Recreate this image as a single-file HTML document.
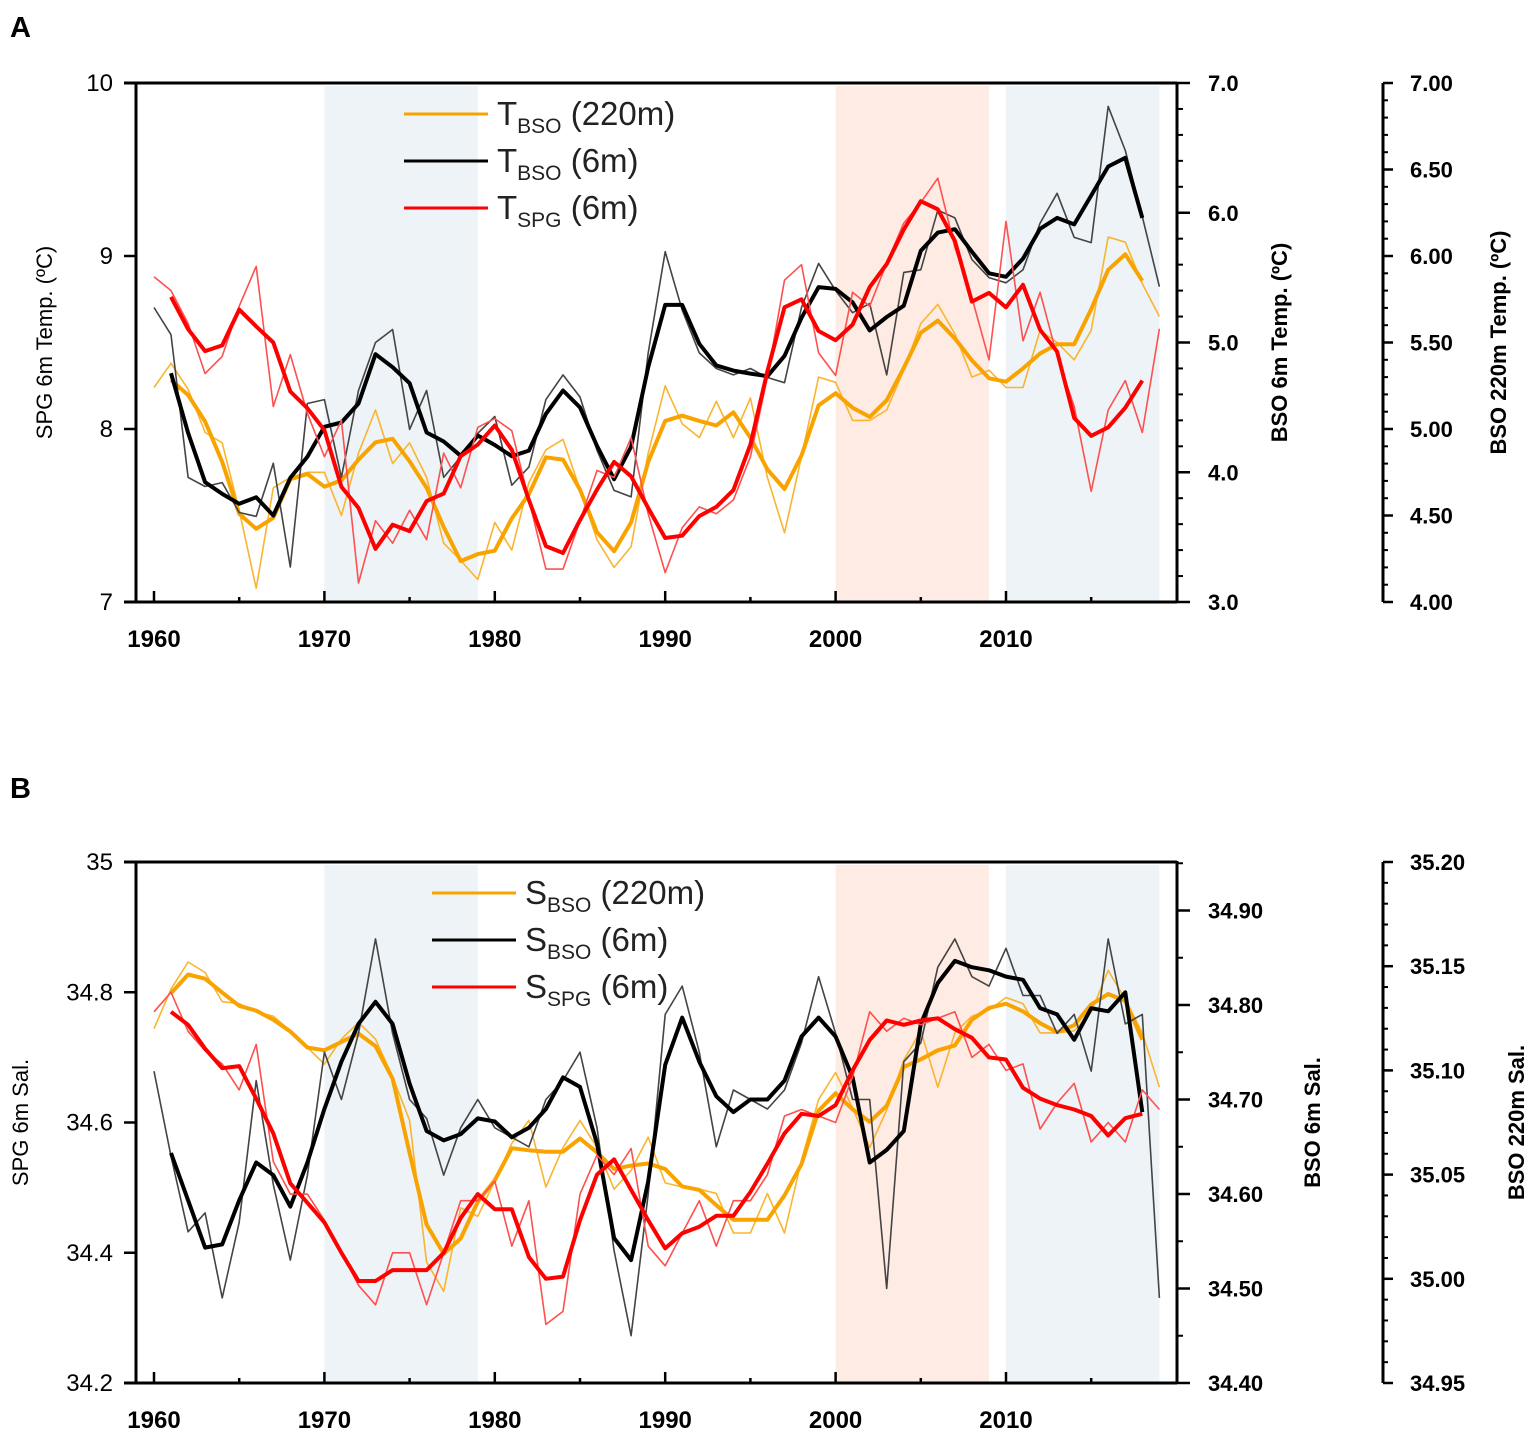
<!DOCTYPE html>
<html><head><meta charset="utf-8"><style>
body{margin:0;background:#fff}
svg{display:block;font-family:"Liberation Sans",Arial,sans-serif}
</style></head><body>
<svg id="chart" width="1535" height="1436" viewBox="0 0 1535 1436" xmlns="http://www.w3.org/2000/svg"></svg>
<script>
const years=[];for(let y=1960;y<=2019;y++)years.push(y);
const xTicks=[1960,1970,1980,1990,2000,2010];
// Panel A data
const tSpg=[8.88,8.80,8.61,8.32,8.42,8.71,8.94,8.13,8.43,8.09,7.84,8.05,7.11,7.47,7.34,7.53,7.36,7.86,7.66,8.01,8.06,7.99,7.59,7.19,7.19,7.47,7.76,7.72,7.95,7.51,7.17,7.43,7.55,7.51,7.59,7.84,8.30,8.86,8.95,8.44,8.31,8.79,8.71,8.96,9.19,9.31,9.45,9.05,8.76,8.40,9.20,8.51,8.79,8.42,8.13,7.64,8.11,8.28,7.98,8.58];
const tBso6=[5.27,5.06,3.96,3.89,3.92,3.69,3.66,4.07,3.27,4.53,4.56,3.96,4.63,5.00,5.10,4.33,4.63,3.96,4.12,4.30,4.43,3.90,4.04,4.56,4.75,4.58,4.17,3.86,3.81,4.92,5.70,5.25,4.92,4.80,4.75,4.80,4.73,4.69,5.27,5.61,5.40,5.23,5.30,4.75,5.54,5.56,6.02,5.96,5.64,5.50,5.46,5.56,5.92,6.15,5.81,5.77,6.82,6.48,5.97,5.43];
const tBso220=[5.24,5.38,5.23,4.98,4.92,4.53,4.08,4.66,4.72,4.75,4.75,4.50,4.86,5.11,4.80,4.92,4.72,4.34,4.24,4.13,4.46,4.30,4.69,4.88,4.94,4.65,4.36,4.20,4.32,4.86,5.25,5.03,4.95,5.16,4.95,5.18,4.72,4.40,4.84,5.30,5.27,5.05,5.05,5.11,5.34,5.61,5.72,5.55,5.30,5.34,5.24,5.24,5.57,5.50,5.40,5.57,6.11,6.08,5.84,5.65];
// Panel B data
const sSpg=[34.77,34.80,34.74,34.71,34.69,34.65,34.72,34.54,34.49,34.49,34.45,34.40,34.35,34.32,34.40,34.40,34.32,34.40,34.48,34.48,34.51,34.41,34.48,34.29,34.31,34.49,34.55,34.52,34.56,34.41,34.38,34.43,34.48,34.41,34.48,34.48,34.52,34.61,34.62,34.61,34.60,34.67,34.77,34.74,34.76,34.75,34.76,34.77,34.70,34.72,34.68,34.69,34.59,34.63,34.66,34.57,34.60,34.57,34.65,34.62];
const sBso6=[34.73,34.64,34.56,34.58,34.49,34.57,34.72,34.61,34.53,34.62,34.75,34.70,34.77,34.87,34.77,34.70,34.68,34.62,34.67,34.70,34.67,34.66,34.65,34.70,34.72,34.75,34.67,34.54,34.45,34.60,34.79,34.82,34.75,34.65,34.71,34.70,34.69,34.71,34.76,34.83,34.77,34.70,34.70,34.50,34.74,34.76,34.84,34.87,34.83,34.82,34.86,34.81,34.81,34.77,34.79,34.73,34.87,34.78,34.79,34.49];
const sBso220=[35.120,35.139,35.152,35.147,35.133,35.132,35.128,35.126,35.119,35.111,35.103,35.115,35.123,35.115,35.097,35.076,35.008,34.994,35.034,35.030,35.047,35.065,35.076,35.044,35.063,35.076,35.063,35.043,35.052,35.068,35.046,35.044,35.043,35.041,35.022,35.022,35.041,35.022,35.057,35.086,35.099,35.082,35.063,35.081,35.105,35.119,35.092,35.118,35.126,35.129,35.135,35.132,35.118,35.118,35.119,35.128,35.148,35.134,35.118,35.092];
const aLeftTicks=[7,8,9,10];
const aRightTicks=["3.0","4.0","5.0","6.0","7.0"];
const aThirdTicks=["4.00","4.50","5.00","5.50","6.00","6.50","7.00"];
const bLeftTicks=["34.2","34.4","34.6","34.8","35"];
const bRightTicks=["34.40","34.50","34.60","34.70","34.80","34.90"];
const bThirdTicks=["34.95","35.00","35.05","35.10","35.15","35.20"];
const shades=[[1970,1979,"#edf3f6"],[2000,2009,"#fdebe4"],[2010,2019,"#edf3f6"]];

const NS="http://www.w3.org/2000/svg";
const svg=document.getElementById('chart');
function mk(tag,attrs,parent){const e=document.createElementNS(NS,tag);for(const k in attrs)e.setAttribute(k,attrs[k]);(parent||svg).appendChild(e);return e;}
const X0=136,X1=1177,AX3=1383;
const xs=y=>154+(y-1960)*17.04;
function smooth(a){const r=[];for(let i=1;i<a.length-1;i++)r.push((a[i-1]+a[i]+a[i+1])/3);return r;}

function panel(P){
  const g=mk('g',{});
  
  
  shades.forEach(s=>{const r=mk('rect',{x:xs(s[0]),y:P.top+3,width:xs(s[1])-xs(s[0]),height:P.bot-P.top-3,fill:s[2]},g);
    });
  P.series.forEach(s=>{
    const thin=s.data.map((v,i)=>xs(years[i]).toFixed(1)+','+s.sc(v).toFixed(1)).join(' ');
    const l1=mk('polyline',{points:thin,fill:'none',stroke:s.thin,'stroke-width':1.6,'stroke-linejoin':'round'},g);
    
    const sm=smooth(s.data);
    const thick=sm.map((v,i)=>xs(years[i+1]).toFixed(1)+','+s.sc(v).toFixed(1)).join(' ');
    const l2=mk('polyline',{points:thick,fill:'none',stroke:s.col,'stroke-width':4,'stroke-linejoin':'round'},g);
    
  });
  mk('line',{x1:X0-12,y1:P.top,x2:X1,y2:P.top,stroke:'#000','stroke-width':3},g);
  mk('line',{x1:X0-12,y1:P.bot,x2:X1,y2:P.bot,stroke:'#000','stroke-width':3},g);
  mk('line',{x1:X0,y1:P.top,x2:X0,y2:P.bot,stroke:'#000','stroke-width':3},g);
  mk('line',{x1:X1,y1:P.top-1,x2:X1,y2:P.bot+1,stroke:'#000','stroke-width':3},g);
  for(let y=1960;y<=2015;y+=5){const maj=y%10==0;mk('line',{x1:xs(y),y1:P.bot,x2:xs(y),y2:P.bot-(maj?11:5),stroke:'#000','stroke-width':2.5},g);}
  xTicks.forEach(y=>{const t=mk('text',{x:xs(y),y:P.bot+45,'text-anchor':'middle','font-size':24,'font-weight':'bold'},g);t.textContent=y;
    });
  P.left.ticks.forEach(v=>{const yy=P.left.sc(+v);mk('line',{x1:X0-12,y1:yy,x2:X0,y2:yy,stroke:'#000','stroke-width':2.5},g);
    const t=mk('text',{x:113,y:yy+8,'text-anchor':'end','font-size':24},g);t.textContent=v;
    });
  for(let v=P.right.min;v<=P.right.max+1e-6;v+=P.right.minor){const yy=P.right.sc(v);mk('line',{x1:X1,y1:yy,x2:X1+6,y2:yy,stroke:'#000','stroke-width':2},g);}
  P.right.ticks.forEach(v=>{const yy=P.right.sc(+v);mk('line',{x1:X1,y1:yy,x2:X1+13,y2:yy,stroke:'#000','stroke-width':2.5},g);
    const t=mk('text',{x:X1+31,y:yy+8,'font-size':22,'font-weight':'bold'},g);t.textContent=v;
    });
  mk('line',{x1:AX3,y1:P.top,x2:AX3,y2:P.bot,stroke:'#000','stroke-width':3},g);
  for(let v=P.third.min;v<=P.third.max+1e-6;v+=P.third.minor){const yy=P.third.sc(v);mk('line',{x1:AX3,y1:yy,x2:AX3+5,y2:yy,stroke:'#000','stroke-width':2},g);}
  P.third.ticks.forEach(v=>{const yy=P.third.sc(+v);mk('line',{x1:AX3,y1:yy,x2:AX3+10,y2:yy,stroke:'#000','stroke-width':2.5},g);
    const t=mk('text',{x:AX3+27,y:yy+8,'font-size':22,'font-weight':'bold'},g);t.textContent=v;
    });
  const mid=(P.top+P.bot)/2;
  P.titles.forEach(tt=>{const t=mk('text',{x:0,y:0,'text-anchor':'middle','font-size':22,'font-weight':tt[2]||'normal',transform:`translate(${tt[0]},${mid}) rotate(-90)`},g);t.innerHTML=tt[1];
    });
  P.legend.forEach((L,i)=>{const yy=P.legY+i*47;
    const ln=mk('line',{x1:P.legX,y1:yy,x2:P.legX+84,y2:yy,stroke:L[0],'stroke-width':3},g);
    
    const t=mk('text',{x:P.legX+93,y:yy+11,'font-size':33,fill:'#222'},g);
    t.innerHTML=`${L[1]}<tspan font-size="21" dy="8">${L[2]}</tspan><tspan dy="-8"> ${L[3]}</tspan>`;
    });
  const pl=mk('text',{x:10,y:P.labY,'font-size':29,'font-weight':'bold'},g);pl.textContent=P.label;
  
}
const aTop=83,aBot=602;
const aL=v=>aTop+(10-v)*(aBot-aTop)/3;
const aR=v=>aTop+(7-v)*(aBot-aTop)/4;
const a3=v=>aTop+(7-v)*(aBot-aTop)/3;
panel({name:'panel-a-temperature',top:aTop,bot:aBot,label:'A',labY:37,
  series:[{key:'t-bso-220m',data:tBso220,sc:a3,col:'#f8a300',thin:'#f9b530'},
          {key:'t-bso-6m',data:tBso6,sc:aR,col:'#000',thin:'#444'},
          {key:'t-spg-6m',data:tSpg,sc:aL,col:'#ff0000',thin:'#ff5050'}],
  left:{ticks:aLeftTicks,sc:aL},
  right:{ticks:aRightTicks,sc:aR,min:3,max:7,minor:0.2},
  third:{ticks:aThirdTicks,sc:a3,min:4,max:7,minor:0.1},
  titles:[[52,'SPG 6m Temp. (ºC)','normal','left-y-axis-title'],[1287,'BSO 6m Temp. (ºC)','bold','right-y-axis-title'],[1506,'BSO 220m Temp. (ºC)','bold','third-y-axis-title']],
  legX:404,legY:114,
  legend:[['#f8a300','T','BSO','(220m)'],['#000','T','BSO','(6m)'],['#ff0000','T','SPG','(6m)']]});
const bTop=862,bBot=1383;
const bL=v=>bTop+(35-v)*(bBot-bTop)/0.8;
const bR=v=>bBot-(v-34.4)*945;
const b3=v=>bBot-(v-34.95)*(bBot-bTop)/0.25;
panel({name:'panel-b-salinity',top:bTop,bot:bBot,label:'B',labY:798,
  series:[{key:'s-bso-220m',data:sBso220,sc:b3,col:'#f8a300',thin:'#f9b530'},
          {key:'s-bso-6m',data:sBso6,sc:bR,col:'#000',thin:'#444'},
          {key:'s-spg-6m',data:sSpg,sc:bL,col:'#ff0000',thin:'#ff5050'}],
  left:{ticks:bLeftTicks,sc:bL},
  right:{ticks:bRightTicks,sc:bR,min:34.4,max:34.95,minor:0.05},
  third:{ticks:bThirdTicks,sc:b3,min:34.95,max:35.2,minor:0.01},
  titles:[[28,'SPG 6m Sal.','normal','left-y-axis-title'],[1320,'BSO 6m Sal.','bold','right-y-axis-title'],[1524,'BSO 220m Sal.','bold','third-y-axis-title']],
  legX:432,legY:893,
  legend:[['#f8a300','S','BSO','(220m)'],['#000','S','BSO','(6m)'],['#ff0000','S','SPG','(6m)']]});
</script>
</body></html>
